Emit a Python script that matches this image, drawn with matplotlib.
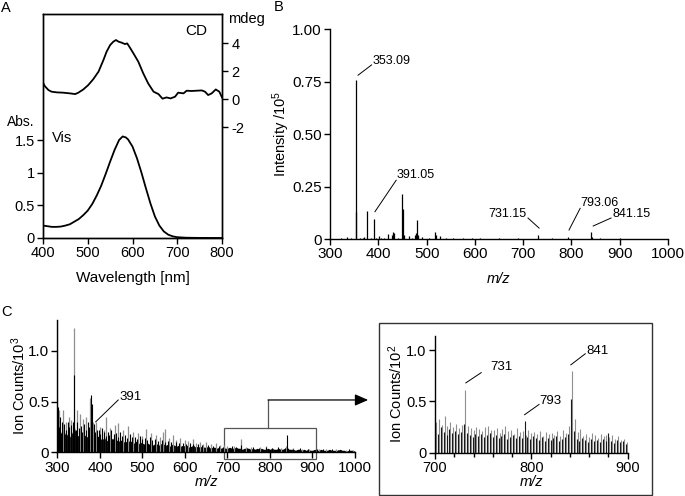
import numpy as np
import matplotlib
matplotlib.use('Agg')
import matplotlib.pyplot as plt
from matplotlib.patches import Rectangle
from matplotlib.ticker import MultipleLocator

plt.rcParams.update({
    'font.family': 'Liberation Sans',
    'font.size': 10.5,
    'mathtext.fontset': 'custom',
    'mathtext.rm': 'Liberation Sans',
    'mathtext.it': 'Liberation Sans:italic',
    'axes.unicode_minus': False,
    'axes.linewidth': 1.0,
    'xtick.direction': 'out',
    'ytick.direction': 'out',
    'xtick.major.size': 4,
    'ytick.major.size': 4,
    'xtick.major.width': 1.0,
    'ytick.major.width': 1.0,
    'xtick.major.pad': 2,
    'ytick.major.pad': 2,
})

# ---- panel A: Vis absorption and CD ----
vis_nm = [400, 410, 420, 430, 440, 450, 460, 470, 480, 490, 500, 510, 520, 530,
          540, 550, 560, 570, 578, 585, 590, 600, 610, 620, 630, 640, 650, 660,
          670, 680, 690, 700, 720, 750, 800]
vis_abs = [0.19, 0.18, 0.17, 0.17, 0.175, 0.19, 0.21, 0.25, 0.29, 0.35, 0.42, 0.52,
           0.65, 0.80, 0.98, 1.17, 1.35, 1.50, 1.555, 1.54, 1.51, 1.40, 1.22, 1.00,
           0.76, 0.53, 0.33, 0.19, 0.10, 0.05, 0.025, 0.012, 0.004, 0.001, 0.0]

cd_nm = [400, 404, 412, 419, 431, 445, 460, 472, 479, 490, 501, 512, 524, 535,
         542, 550, 557, 563, 569, 576, 583, 588, 593, 602, 613, 624, 635, 647,
         658, 667, 676, 685, 695, 702, 714, 721, 732, 743, 755, 762, 769, 777,
         786, 794, 800]
cd_mdeg = [1.19, 0.95, 0.67, 0.55, 0.50, 0.48, 0.43, 0.38, 0.48, 0.71, 1.02, 1.43,
           1.98, 2.81, 3.40, 3.88, 4.12, 4.24, 4.12, 4.05, 3.95, 4.00, 3.76, 3.29,
           2.69, 1.86, 1.14, 0.55, 0.38, 0.05, 0.14, 0.07, 0.19, 0.48, 0.43, 0.62,
           0.60, 0.62, 0.64, 0.55, 0.31, 0.43, 0.71, 0.55, 0.14]

# ---- panel B: mass spectrum ----
b_mz = [322, 335, 343, 353, 354, 362, 368, 371, 377, 385, 391, 395, 401, 405, 412,
        421, 428, 430, 433, 440, 449, 451, 453, 463, 470, 477, 479, 481, 483, 490,
        505, 517, 519, 528, 540, 555, 575, 593, 610, 650, 690, 731, 760, 793, 841,
        843, 860, 900, 950]
b_int = [0.003, 0.008, 0.004, 0.755, 0.13, 0.005, 0.006, 0.008, 0.135, 0.005, 0.095,
         0.006, 0.015, 0.005, 0.006, 0.025, 0.02, 0.035, 0.03, 0.006, 0.215, 0.145,
         0.02, 0.015, 0.006, 0.02, 0.03, 0.09, 0.02, 0.008, 0.004, 0.035, 0.02,
         0.015, 0.004, 0.005, 0.003, 0.005, 0.003, 0.003, 0.003, 0.02, 0.003, 0.01,
         0.035, 0.01, 0.004, 0.003, 0.002]

# ---- panel C: ion counts (x10^3), base envelope every 5 m/z ----
c_base_mz = np.arange(300, 1001, 5)
c_base = [0.30, 0.22, 0.18, 0.21, 0.16, 0.19, 0.15, 0.20, 0.24, 0.17,
          0.16, 0.19, 0.14, 0.17, 0.15, 0.20, 0.22, 0.15, 0.13, 0.16,
          0.14, 0.12, 0.15, 0.11, 0.13, 0.12, 0.14, 0.10, 0.12, 0.11,
          0.12, 0.10, 0.11, 0.09, 0.12, 0.10, 0.09, 0.11, 0.08, 0.10,
          0.09, 0.08, 0.10, 0.08, 0.09, 0.07, 0.09, 0.08, 0.07, 0.09,
          0.08, 0.07, 0.08, 0.06, 0.08, 0.07, 0.06, 0.07, 0.06, 0.07,
          0.06, 0.07, 0.05, 0.06, 0.07, 0.05, 0.06, 0.05, 0.06, 0.05,
          0.05, 0.06, 0.04, 0.05, 0.05, 0.04, 0.05, 0.04, 0.05, 0.04,
          0.04, 0.05, 0.04, 0.04, 0.05, 0.04, 0.04, 0.03, 0.04, 0.04,
          0.04, 0.03, 0.04, 0.03, 0.04, 0.03, 0.04, 0.03, 0.03, 0.04,
          0.03, 0.04, 0.03, 0.03, 0.04, 0.03, 0.03, 0.04, 0.05, 0.03,
          0.03, 0.03, 0.02, 0.03, 0.03, 0.02, 0.03, 0.02, 0.03, 0.02,
          0.02, 0.03, 0.02, 0.02, 0.03, 0.02, 0.02, 0.02, 0.03, 0.02,
          0.02, 0.02, 0.02, 0.03, 0.02, 0.02, 0.01, 0.02, 0.02, 0.02,
          0.01]
c_black_mz = [300, 302, 304, 307, 311, 316, 319, 324, 328, 333, 336, 339, 343, 347,
              350, 355, 358, 362, 366, 371, 374, 379, 382, 386, 389, 393, 397, 401,
              405, 410, 414, 418, 422, 427, 432, 438, 442, 447, 452, 458, 463, 470,
              475, 483, 488, 495, 500, 505, 511, 517, 523, 530, 537, 545, 552, 560,
              567, 578, 586, 595, 603, 612, 620, 630, 640, 655, 665, 680, 690, 710,
              720, 731, 745, 760, 775, 790, 805, 820, 835, 841, 855, 870, 890, 910,
              925, 945, 960, 985]
c_black = [1.30, 0.45, 0.25, 0.35, 0.30, 0.28, 0.22, 0.30, 0.25, 0.27, 0.30, 0.76,
           0.22, 0.30, 0.24, 0.26, 0.20, 0.28, 0.22, 0.30, 0.25, 0.56, 0.48, 0.28,
           0.20, 0.22, 0.22, 0.18, 0.24, 0.20, 0.16, 0.20, 0.17, 0.22, 0.18, 0.19,
           0.15, 0.20, 0.16, 0.17, 0.14, 0.18, 0.15, 0.15, 0.13, 0.16, 0.13, 0.14,
           0.12, 0.15, 0.12, 0.13, 0.11, 0.12, 0.10, 0.11, 0.10, 0.10, 0.09, 0.09,
           0.08, 0.09, 0.08, 0.08, 0.07, 0.07, 0.06, 0.06, 0.055, 0.06, 0.05, 0.07,
           0.045, 0.05, 0.045, 0.055, 0.04, 0.05, 0.045, 0.17, 0.035, 0.04, 0.03,
           0.035, 0.03, 0.03, 0.025, 0.03]
c_gray_mz = [304, 313, 321, 327, 331, 338, 345, 352, 359, 367, 376, 383, 391, 400,
             409, 414, 423, 435, 443, 454, 466, 478, 490, 500, 509, 521, 533, 541,
             548, 552, 563, 572, 580, 588, 599, 608, 619, 627, 635, 642, 650, 662,
             674, 683, 691, 700, 715, 731, 744, 755, 776, 791, 805, 825, 837, 854,
             875, 893, 915, 932, 955, 979, 995]
c_gray = [0.42, 0.42, 0.30, 0.35, 0.32, 1.22, 0.42, 0.38, 0.33, 0.35, 0.53, 0.30,
          0.30, 0.25, 0.22, 0.35, 0.24, 0.27, 0.29, 0.22, 0.26, 0.20, 0.19, 0.16,
          0.23, 0.19, 0.17, 0.15, 0.20, 0.23, 0.14, 0.17, 0.12, 0.14, 0.12, 0.11,
          0.13, 0.09, 0.10, 0.08, 0.10, 0.08, 0.09, 0.07, 0.07, 0.06, 0.06, 0.13,
          0.055, 0.05, 0.055, 0.06, 0.045, 0.045, 0.06, 0.04, 0.035, 0.035, 0.03,
          0.03, 0.028, 0.025, 0.02]

# ---- inset: ion counts (x10^2), 700-900 ----
ins_gray_mz = np.arange(701, 900, 3)
ins_gray = [0.30, 0.33, 0.27, 0.36, 0.26, 0.30, 0.25, 0.28, 0.24, 0.27,
            0.61, 0.26, 0.24, 0.22, 0.25, 0.23, 0.21, 0.25, 0.26, 0.22,
            0.22, 0.24, 0.19, 0.23, 0.26, 0.21, 0.22, 0.18, 0.24, 0.20,
            0.21, 0.17, 0.22, 0.19, 0.20, 0.18, 0.21, 0.16, 0.20, 0.18,
            0.19, 0.17, 0.21, 0.16, 0.22, 0.19, 0.26, 0.80, 0.33, 0.20,
            0.23, 0.16, 0.18, 0.15, 0.19, 0.17, 0.14, 0.18, 0.16, 0.17,
            0.15, 0.17, 0.13, 0.16, 0.12, 0.13, 0.10]
ins_black_mz = np.arange(700, 899, 3)
ins_black = [0.22, 0.18, 0.25, 0.20, 0.17, 0.23, 0.19, 0.21, 0.18, 0.20,
             0.28, 0.19, 0.17, 0.15, 0.18, 0.16, 0.18, 0.15, 0.17, 0.19,
             0.15, 0.17, 0.14, 0.16, 0.18, 0.13, 0.15, 0.17, 0.14, 0.16,
             0.14, 0.31, 0.15, 0.13, 0.16, 0.14, 0.12, 0.15, 0.11, 0.14,
             0.12, 0.14, 0.16, 0.11, 0.13, 0.15, 0.18, 0.52, 0.21, 0.13,
             0.11, 0.14, 0.12, 0.10, 0.13, 0.11, 0.12, 0.10, 0.13, 0.11,
             0.19, 0.11, 0.09, 0.12, 0.10, 0.11, 0.08]

GRAY = '#8f8f8f'


def peak_label(ax, text, start, end, pos, ha='left', size=9.5):
    ax.plot([start[0], end[0]], [start[1], end[1]], color='black', lw=0.7,
            clip_on=False)
    ax.text(pos[0], pos[1], text, ha=ha, va='baseline', fontsize=size)


fig = plt.figure(figsize=(6.85, 4.96), dpi=100)

# panel A
ax_a = fig.add_axes([0.0628, 0.5202, 0.2613, 0.4516])
ax_a.plot(vis_nm, vis_abs, color='black', lw=1.3)
ax_a.set_xlim(400, 800)
ax_a.set_ylim(0, 3.43)
ax_a.set_xticks([400, 500, 600, 700, 800])
ax_a.set_yticks([0, 0.5, 1, 1.5])
ax_a.set_yticklabels(['0', '0.5', '1', '1.5'])
ax_a.set_xlabel('Wavelength [nm]', fontsize=11, labelpad=8)
ax_cd = ax_a.twinx()
ax_cd.plot(cd_nm, cd_mdeg, color='black', lw=1.3)
ax_cd.set_ylim(-9.9, 6.1)
ax_cd.set_yticks([-2, 0, 2, 4])
ax_cd.tick_params(axis='y', pad=3)
ax_a.text(768, 3.17, 'CD', ha='right', va='center', fontsize=11)
ax_a.text(421, 1.53, 'Vis', ha='left', va='center', fontsize=10.5)
fig.text(7 / 685, 1 - 122 / 496, 'Abs.', ha='left', va='center', fontsize=10)
fig.text(228 / 685, 1 - 19 / 496, 'mdeg', ha='left', va='center', fontsize=10.5)

# panel B
ax_b = fig.add_axes([0.4818, 0.5181, 0.4934, 0.4234])
ax_b.vlines(b_mz, 0, b_int, color='black', lw=0.9)
ax_b.set_xlim(300, 1000)
ax_b.set_ylim(0, 1.0)
ax_b.set_xticks(range(300, 1001, 100))
ax_b.set_yticks([0, 0.25, 0.5, 0.75, 1.0])
ax_b.set_yticklabels(['0', '0.25', '0.50', '0.75', '1.00'])
ax_b.tick_params(labelsize=11)
ax_b.spines['top'].set_visible(False)
ax_b.spines['right'].set_visible(False)
ax_b.set_ylabel('Intensity /10$^5$', labelpad=0)
ax_b.set_xlabel('m/z', style='italic', labelpad=8)
peak_label(ax_b, '353.09', (358, 0.78), (386, 0.829), (388, 0.833), size=9)
peak_label(ax_b, '391.05', (393, 0.13), (437, 0.28), (438, 0.289), size=9)
peak_label(ax_b, '731.15', (733, 0.052), (710, 0.10), (707, 0.103), ha='right', size=9)
peak_label(ax_b, '793.06', (795, 0.043), (818, 0.146), (818, 0.159), size=9)
peak_label(ax_b, '841.15', (845, 0.062), (882, 0.10), (884, 0.103), size=9)

# panel C left
ax_c = fig.add_axes([0.0839, 0.0881, 0.4343, 0.2663])
ax_c.vlines(c_gray_mz, 0, c_gray, color=GRAY, lw=0.9)
ax_c.fill_between(c_base_mz, 0, c_base, color='black', lw=0)
ax_c.vlines(c_black_mz, 0, c_black, color='black', lw=0.8)
ax_c.set_xlim(300, 1000)
ax_c.set_ylim(0, 1.3)
ax_c.set_xticks(range(300, 1001, 100))
ax_c.set_yticks([0, 0.5, 1.0])
ax_c.set_yticklabels(['0', '0.5', '1.0'])
ax_c.tick_params(labelsize=11)
ax_c.spines['top'].set_visible(False)
ax_c.spines['right'].set_visible(False)
ax_c.set_ylabel('Ion Counts/10$^3$', labelpad=0)
ax_c.set_xlabel('m/z', style='italic', labelpad=0)
peak_label(ax_c, '391', (390, 0.30), (443, 0.515), (446, 0.515))
ax_c.add_patch(Rectangle((692, -0.069), 216, 0.311, fill=False,
                         edgecolor='#555555', lw=0.9, clip_on=False))
ax_c.plot([796, 796], [0.242, 0.515], color='#555555', lw=0.9, clip_on=False)
ax_c.annotate('', xy=(1031, 0.515), xytext=(795.5, 0.515),
              annotation_clip=False,
              arrowprops=dict(arrowstyle='-|>,head_length=0.8,head_width=0.35',
                              color='black', lw=0.9, mutation_scale=10,
                              shrinkA=0, shrinkB=0))

# panel C inset
fig.add_artist(Rectangle((0.5533, 0.002), 0.3985, 0.3468,
                         transform=fig.transFigure, fill=False,
                         edgecolor='#333333', lw=1.0))
ax_i = fig.add_axes([0.635, 0.0873, 0.2813, 0.2359])
ax_i.vlines(ins_gray_mz, 0, ins_gray, color=GRAY, lw=0.8)
ax_i.vlines(ins_black_mz, 0, ins_black, color='#1a1a1a', lw=0.8)
ax_i.set_xlim(700, 900)
ax_i.set_ylim(0, 1.14)
ax_i.set_xticks([700, 800, 900])
ax_i.xaxis.set_minor_locator(MultipleLocator(20))
ax_i.tick_params(axis='x', which='minor', length=3, width=1.0)
ax_i.set_yticks([0, 0.5, 1.0])
ax_i.set_yticklabels(['0', '0.5', '1.0'])
ax_i.spines['top'].set_visible(False)
ax_i.spines['right'].set_visible(False)
ax_i.set_ylabel('Ion Counts/10$^2$', labelpad=1)
ax_i.set_xlabel('m/z', style='italic', labelpad=0)
peak_label(ax_i, '731', (732, 0.68), (748, 0.78), (757, 0.81))
peak_label(ax_i, '793', (793, 0.37), (808, 0.47), (808, 0.476))
peak_label(ax_i, '841', (841, 0.856), (856, 0.964), (857, 0.964))

fig.text(6 / 685, 1 - 8 / 496, 'A', ha='center', va='center', fontsize=10.5)
fig.text(279 / 685, 1 - 7 / 496, 'B', ha='center', va='center', fontsize=10.5)
fig.text(6 / 685, 1 - 312 / 496, 'C', ha='center', va='center', fontsize=10.5)

fig.savefig('out.png', dpi=100)
